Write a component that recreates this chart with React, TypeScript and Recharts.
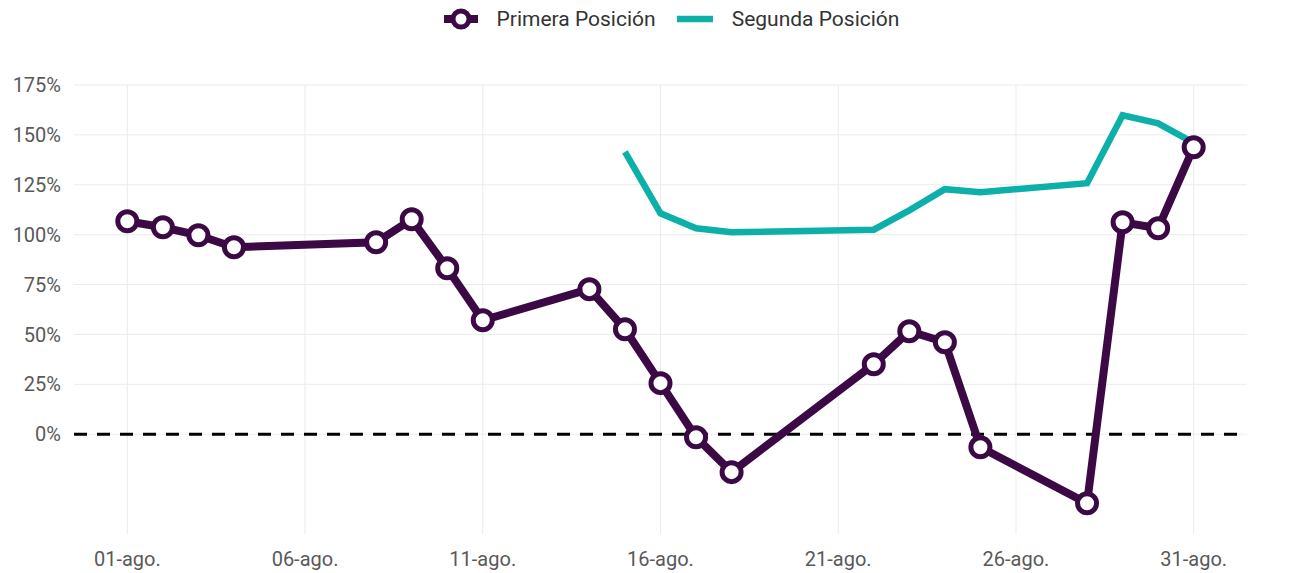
import { LineChart, Line, XAxis, YAxis, CartesianGrid, ReferenceLine } from 'recharts'

const PURPLE = '#3B0A45'
const TEAL = '#0DB0A8'
const FONT = 'Roboto, "Noto Sans", sans-serif'

// days of August (1 = 01-ago.) and % values
const primeraDays = [1, 2, 3, 4, 8, 9, 10, 11, 14, 15, 16, 17, 18, 22, 23, 24, 25, 28, 29, 30, 31]
const primeraValues = [106.7, 103.7, 99.7, 93.7, 96.2, 107.7, 83.2, 57.1, 72.7, 52.6, 25.6, -1.5, -19, 35.1, 51.6, 46.1, -6.5, -34.6, 106.2, 103.2, 143.8]

const segundaDays = [15, 16, 17, 18, 22, 23, 24, 25, 28, 29, 30, 31]
const segundaValues = [141.5, 110.7, 103.2, 101.2, 102.5, 112.2, 122.8, 121.3, 125.8, 159.8, 155.8, 146]

const xTicks = [1, 6, 11, 16, 21, 26, 31]
const yTicks = [0, 25, 50, 75, 100, 125, 150, 175]

const primera = primeraDays.map((day, i) => ({ day, value: primeraValues[i] }))
const segunda = segundaDays.map((day, i) => ({ day, value: segundaValues[i] }))

const fmtDay = (d: number) => `${String(d).padStart(2, '0')}-ago.`
const fmtPct = (v: number) => `${v}%`

const tickStyle = { fontSize: 20, fill: '#595959', fontFamily: FONT }

function ChartLegend() {
  return (
    <div style={{ position: 'absolute', top: 0, left: 13, width: 1315, height: 38, display: 'flex', justifyContent: 'center', alignItems: 'center', fontFamily: FONT, fontSize: 21, color: '#333' }}>
      <svg width={38} height={24} style={{ marginRight: 17 }}>
        <line x1={2} y1={12} x2={36} y2={12} stroke={PURPLE} strokeWidth={8} />
        <circle cx={19} cy={12} r={8} fill="#fff" stroke={PURPLE} strokeWidth={5} />
      </svg>
      <span>Primera Posición</span>
      <svg width={38} height={24} style={{ marginLeft: 20, marginRight: 18 }}>
        <line x1={1} y1={12} x2={37} y2={12} stroke={TEAL} strokeWidth={6.5} />
      </svg>
      <span>Segunda Posición</span>
    </div>
  )
}

export default function App() {
  return (
    <div style={{ position: 'absolute', top: 0, left: 0, width: 1315, height: 573, background: '#fff', overflow: 'hidden' }}>
      <ChartLegend />
      <LineChart width={1315} height={573} margin={{ top: 85, right: 0, bottom: 0, left: 0 }}>
        <CartesianGrid stroke="#EBEBEB" strokeWidth={1} syncWithTicks />
        <XAxis
          dataKey="day"
          type="number"
          domain={[-0.5, 32.5]}
          ticks={xTicks}
          tickFormatter={fmtDay}
          allowDuplicatedCategory={false}
          axisLine={false}
          tickLine={false}
          tickSize={0}
          tickMargin={18}
          height={39}
          tick={tickStyle}
          interval={0}
        />
        <YAxis
          domain={[-50, 175]}
          ticks={yTicks}
          tickFormatter={fmtPct}
          axisLine={false}
          tickLine={false}
          tickSize={0}
          tickMargin={13}
          width={74}
          tick={tickStyle}
          interval={0}
        />
        <YAxis
          yAxisId="right"
          orientation="right"
          domain={[-50, 175]}
          ticks={yTicks}
          tickFormatter={fmtPct}
          axisLine={false}
          tickLine={false}
          tickSize={0}
          tickMargin={15}
          width={68}
          tick={{ ...tickStyle, textAnchor: 'start' }}
          interval={0}
        />
        <ReferenceLine y={0} stroke="#000" strokeWidth={3} strokeDasharray="13 10" />
        <Line
          data={segunda}
          dataKey="value"
          type="linear"
          stroke={TEAL}
          strokeWidth={6.5}
          dot={false}
          activeDot={false}
          isAnimationActive={false}
        />
        <Line
          data={primera}
          dataKey="value"
          type="linear"
          stroke={PURPLE}
          strokeWidth={8}
          dot={{ r: 9.5, fill: '#fff', stroke: PURPLE, strokeWidth: 5 }}
          activeDot={false}
          isAnimationActive={false}
        />
      </LineChart>
    </div>
  )
}
